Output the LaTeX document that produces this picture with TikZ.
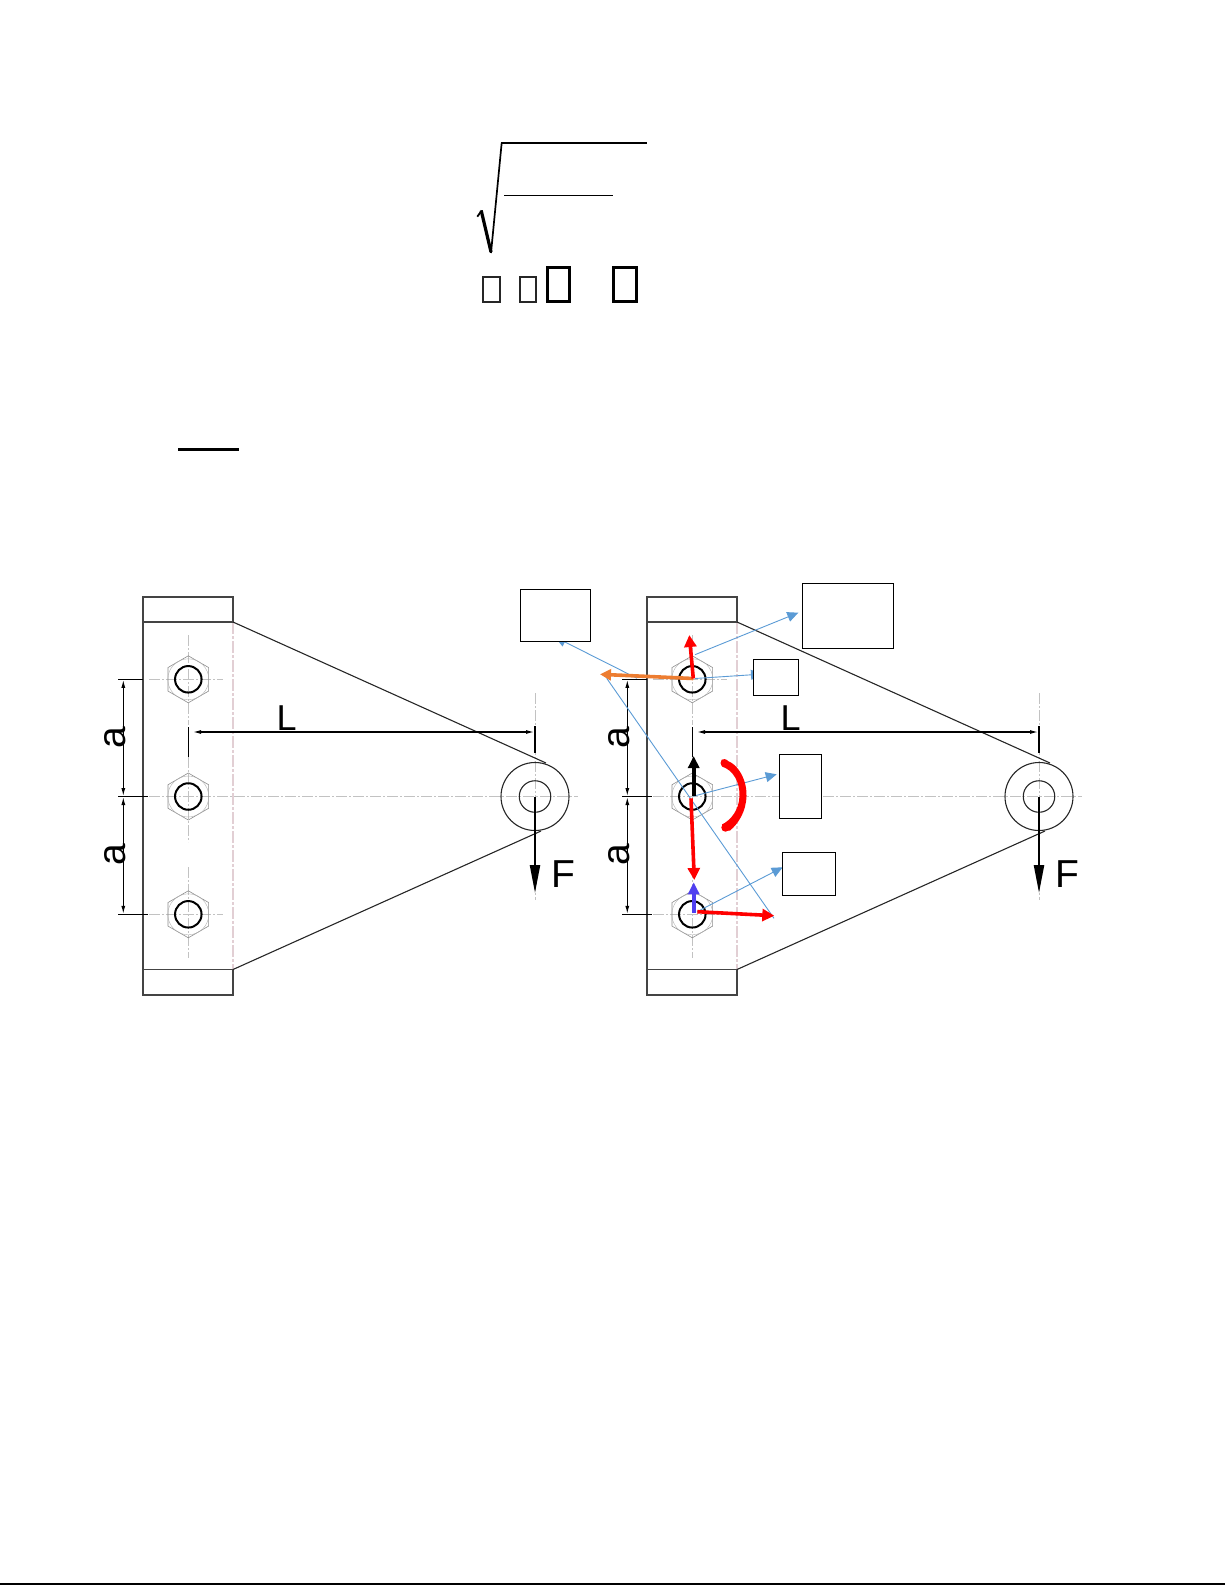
\documentclass[tikz,border=0pt]{standalone}
\usepackage{fontspec}
\setmainfont{Liberation Sans}
\usetikzlibrary{arrows.meta,shapes.geometric}
\definecolor{bluearrow}{HTML}{5B9BD5}
\definecolor{orangearrow}{HTML}{ED7D31}
\definecolor{violetarrow}{HTML}{4F3FF0}
\definecolor{plateline}{HTML}{444444}
\definecolor{chain}{HTML}{C2C2C2}
\definecolor{pinkline}{HTML}{E2CFD4}
\tikzset{
  plate/.style={draw=plateline,line width=1.4pt},
  edgeline/.style={draw=black!85,line width=1.1pt},
  centreline/.style={draw=chain,line width=0.8pt,dash pattern=on 11pt off 2pt on 2pt off 2pt},
  pinkdash/.style={draw=pinkline,line width=1.2pt,dash pattern=on 12pt off 2pt on 3pt off 2pt},
  hexnut/.style={regular polygon,regular polygon sides=6,shape border rotate=30,draw=black!45,line width=0.6pt,minimum size=47pt,inner sep=0pt},
  washer/.style={circle,draw=black!30,line width=0.4pt,minimum size=41pt,inner sep=0pt},
  hole/.style={circle,draw=black,line width=2pt,minimum size=26.5pt,inner sep=0pt},
  lugout/.style={circle,draw=black!85,line width=1.1pt,minimum size=68pt,inner sep=0pt},
  lugin/.style={circle,draw=black!85,line width=1.1pt,minimum size=31.5pt,inner sep=0pt},
  extline/.style={draw=black,line width=1.1pt},
  dimarrow/.style={draw=black,line width=1.1pt,{Latex[length=8pt,width=4pt]}-{Latex[length=8pt,width=4pt]}},
  bigfont/.style={font=\fontsize{39}{39}\selectfont,inner sep=0pt},
  lfont/.style={font=\fontsize{36}{36}\selectfont,inner sep=0pt},
  forcef/.style={draw=black,line width=2.2pt,-{Triangle[length=28pt,width=10pt]}},
  bluelead/.style={draw=bluearrow,line width=0.9pt,-{Triangle[length=11pt,width=10pt]}},
  bluethin/.style={draw=bluearrow,line width=0.9pt},
  thickred/.style={draw=red,line width=3.6pt,-{Triangle[length=12pt,width=12pt]}},
  thickblack/.style={draw=black,line width=3.6pt,-{Triangle[length=12pt,width=11pt]}},
  thickviolet/.style={draw=violetarrow,line width=4pt,-{Triangle[length=12pt,width=11pt]}},
  thickorange/.style={draw=orangearrow,line width=3.6pt,-{Triangle[length=11pt,width=11pt]}},
  labelbox/.style={draw=black,fill=white,line width=1pt},
  tofusmall/.style={draw=black!85,line width=2pt},
  tofubig/.style={draw=black,line width=3pt}
}
\begin{document}
\begin{tikzpicture}[x=1pt,y=-1pt]
\useasboundingbox (0,0) rectangle (1225,1585);
% radical
\draw[line width=1.8pt] (477.3,216.7) -- (481.7,210.5);
\draw[line width=3.2pt] (481.2,210.5) -- (491,252);
\draw[line width=1.7pt] (491,253) -- (501.7,142.7);
\draw[line width=2.4pt] (501,142.7) -- (647.3,142.7);
\draw[line width=1.2pt] (504,195.3) -- (612.7,195.3);
\draw[tofusmall] (482.7,277) rectangle (499.8,302.4);
\draw[tofusmall] (519.7,277) rectangle (536.4,302.4);
\draw[tofubig] (547.5,267.5) rectangle (569.6,301.8);
\draw[tofubig] (613.5,267.5) rectangle (636.2,301.8);
% underline and bottom rule
\draw[line width=3pt] (178,449.3) -- (239,449.3);
\draw[line width=1.5pt] (0,1584) -- (1225,1584);
% two identical plates
\foreach \dx/\pre in {0/l,504/r}{
  \begin{scope}[xshift=\dx pt]
    % centre lines
    \draw[centreline] (149,796.5) -- (578,796.5);
    \draw[centreline] (535,693) -- (535,900);
    \draw[centreline] (149,679.3) -- (223,679.3);
    \draw[centreline] (149,914.3) -- (223,914.3);
    \draw[centreline] (188.3,635) -- (188.3,725);
    \draw[centreline] (188.3,757) -- (188.3,842);
    \draw[centreline] (188.3,867) -- (188.3,958);
    % pink line
    \draw[pinkdash] (233,622) -- (233,969);
    % outline
    \draw[plate] (143,597) rectangle (233,622);
    \draw[plate] (143,969.5) rectangle (233,995);
    \draw[plate] (143,622) -- (143,969.5);
    \draw[edgeline] (233,622) -- (546,763);
    \draw[edgeline] (233,969.5) -- (541,831);
    % bolts
    \foreach \yy/\nm in {679.3/a,796.5/b,914.3/c}{
      \node[hexnut] (\pre hex\nm) at (188.3,\yy) {};
      \node[washer] (\pre was\nm) at (188.3,\yy) {};
      \node[hole] (\pre bolt\nm) at (188.3,\yy) {};
    }
    % lug
    \node[lugout] (\pre lugo) at (535,796.5) {};
    \node[lugin] (\pre lugi) at (535,796.5) {};
    % dimension a
    \coordinate (\pre ea) at (118,679.3);
    \coordinate (\pre eb) at (118,796.5);
    \coordinate (\pre ec) at (118,914.3);
    \coordinate (\pre ea2) at (143,679.3);
    \coordinate (\pre eb2) at (148,796.5);
    \coordinate (\pre ec2) at (148,914.3);
    \draw[extline] (\pre ea) -- (\pre ea2);
    \draw[extline] (\pre eb) -- (\pre eb2);
    \draw[extline] (\pre ec) -- (\pre ec2);
    \draw[dimarrow] (123.3,679.8) -- (123.3,796);
    \draw[dimarrow] (123.3,797) -- (123.3,913.8);
    \node[bigfont,rotate=90] (\pre aone) at (114.7,738) {a};
    \node[bigfont,rotate=90] (\pre atwo) at (114.7,855) {a};
    % dimension L
    \draw[extline] (188.3,727) -- (188.3,757);
    \draw[extline] (535,726) -- (535,753);
    \draw[dimarrow] (193,732) -- (534,732);
    \node[lfont,anchor=base west] (\pre ell) at (276.4,730.7) {L};
    % force
    \draw[forcef] (\pre lugo.center) -- (535,893);
    \node[bigfont,anchor=base west] (\pre eff) at (551,887) {F};
  \end{scope}
}
% coordinates of the force arrows
\coordinate (ta) at (693.3,678.5);
\coordinate (tb) at (693.7,796.3);
\coordinate (tc) at (693.7,912.7);
% blue leaders, boxes on top
\draw[bluelead] (695,654.7) -- (798.3,612.7);
\draw[bluelead] (695,678.5) -- (762,674.1);
\draw[bluelead] (693,796.3) -- (776.7,774.3);
\draw[bluelead] (697,911.7) -- (782.7,867.3);
\draw[bluethin] (774,918.3) -- (606.7,678.3);
\draw[bluelead] (637,678.3) -- (555,637);
% boxes
\node[labelbox,anchor=north west,minimum width=70pt,minimum height=52pt,inner sep=0pt] (boxA) at (520.3,589.3) {};
\node[labelbox,anchor=north west,minimum width=91pt,minimum height=65pt,inner sep=0pt] (boxB) at (802.3,583.3) {};
\node[labelbox,anchor=north west,minimum width=45pt,minimum height=36pt,inner sep=0pt] (boxC) at (753.3,659.3) {};
\node[labelbox,anchor=north west,minimum width=42pt,minimum height=64pt,inner sep=0pt] (boxD) at (779.3,754.3) {};
\node[labelbox,anchor=north west,minimum width=53pt,minimum height=43pt,inner sep=0pt] (boxE) at (782.3,852.3) {};
% thick force arrows
\draw[thickorange] (ta) -- (600,674.3);
\draw[thickred] (ta) -- (689.3,635);
\draw[thickblack] (tb) -- (693.7,756);
\draw[thickred] (691,798.3) -- (694.3,880);
\draw[thickviolet] (tc) -- (693.7,882.3);
\draw[thickred] (697.3,911.7) -- (774.3,915.7);
% moment: tapered band with bulbs at its ends
\fill[red] (721.5,759.5) .. controls (736,760) and (747,778) .. (746.5,796) .. controls (746,812) and (738,824) .. (730,830.5)
  -- (723,831) -- (722,824.5) .. controls (731,820) and (739,810) .. (739.5,796) .. controls (740,782) and (733,770) .. (722,766.5) -- cycle;
\fill[red] (724.5,763) circle (4pt);
\fill[red] (725.5,827.5) circle (4.2pt);
\end{tikzpicture}
\end{document}
